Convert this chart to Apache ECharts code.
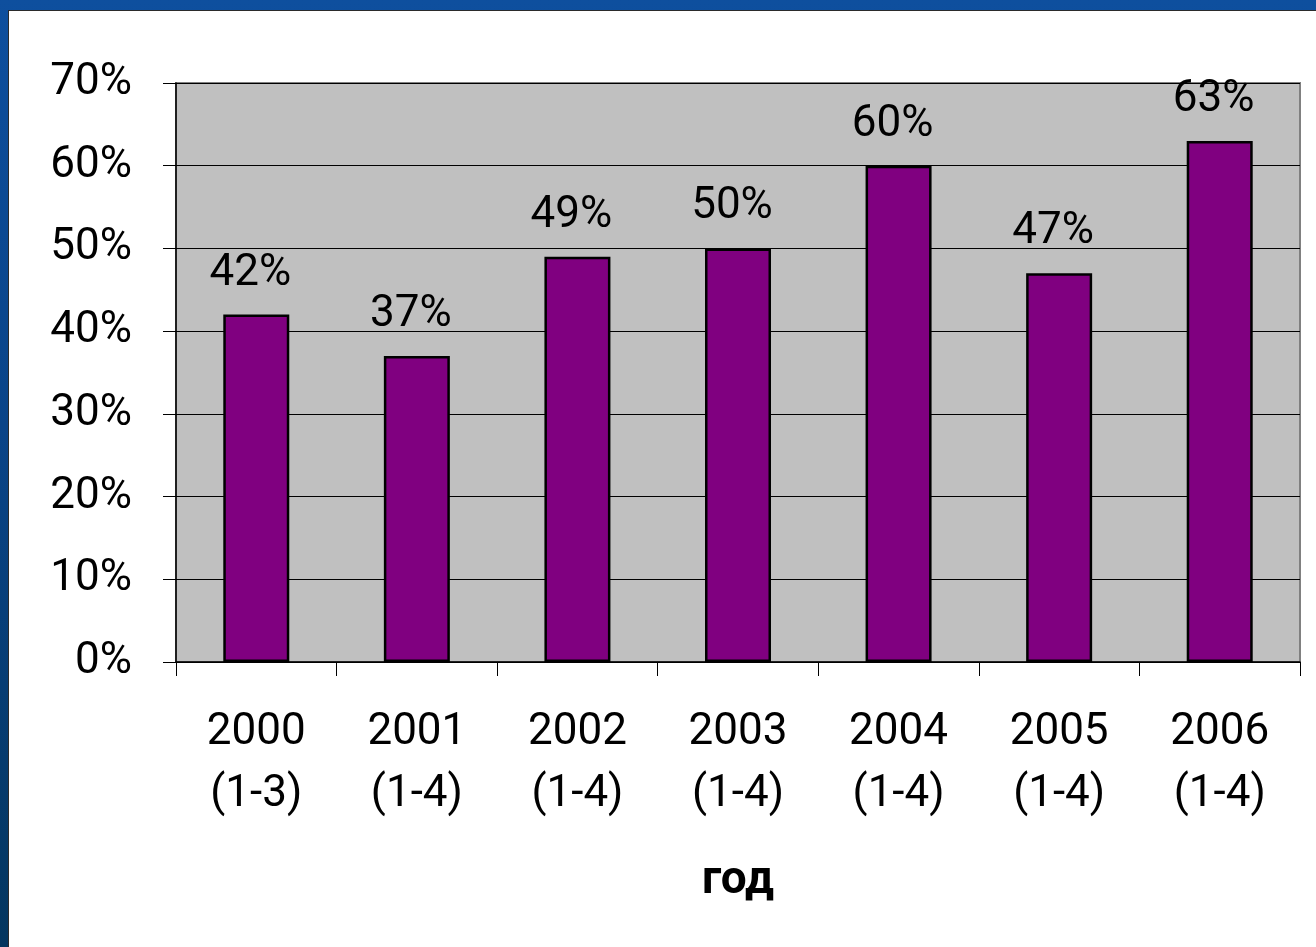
<!DOCTYPE html>
<html>
<head>
<meta charset="utf-8">
<script src="https://cdn.jsdelivr.net/npm/echarts@6/dist/echarts.min.js"></script>
<style>
  html, body { margin: 0; padding: 0; width: 1316px; height: 947px; overflow: hidden; }
  body { background: linear-gradient(180deg, #0e4f9e 0%, #0a4488 45%, #04365f 100%); position: relative; }
  #chart {
    position: absolute; left: 8px; top: 10px; width: 1308px; height: 937px;
    box-sizing: border-box; background: #ffffff;
    border-top: 1px solid #2b2b2b; border-left: 1px solid #2b2b2b;
  }
</style>
</head>
<body>
<div id="chart"></div>
<script>
// Years and the period in brackets shown under each bar
const years = ['2000', '2001', '2002', '2003', '2004', '2005', '2006'];
const periods = ['(1-3)', '(1-4)', '(1-4)', '(1-4)', '(1-4)', '(1-4)', '(1-4)'];
// Share, percent
const shares = [42, 37, 49, 50, 60, 47, 63];
// Value axis
const yMin = 0;
const yMax = 70;
const yStep = 10;
const xName = 'год';

const categories = years.map((y, i) => y + '\n' + periods[i]);
const font = 'Roboto, "Liberation Sans", Arial, sans-serif';

const chart = echarts.init(document.getElementById('chart'), null, { renderer: 'canvas' });
chart.setOption({
  animation: false,
  grid: {
    left: 167, top: 72, width: 1124, height: 579,
    show: true, backgroundColor: '#c0c0c0', borderColor: '#808080', borderWidth: 2
  },
  xAxis: {
    type: 'category',
    data: categories,
    name: xName,
    nameLocation: 'middle',
    nameGap: 196,
    nameTextStyle: { fontFamily: font, fontSize: 46, fontWeight: 'bold', color: '#000' },
    axisLine: { lineStyle: { color: '#000', width: 1.5 } },
    axisTick: { show: true, alignWithLabel: false, length: 14, lineStyle: { color: '#000', width: 1 } },
    axisLabel: { fontFamily: font, fontSize: 44, lineHeight: 62, color: '#000', margin: 40, interval: 0 },
    splitLine: { show: false }
  },
  yAxis: {
    type: 'value',
    min: yMin, max: yMax, interval: yStep,
    axisLine: { show: true, lineStyle: { color: '#000', width: 1.5 } },
    axisTick: { show: true, length: 13, lineStyle: { color: '#000', width: 1 } },
    axisLabel: { fontFamily: font, fontSize: 44, color: '#000', margin: 44, formatter: '{value}%' },
    splitLine: { show: true, lineStyle: { color: '#000', width: 1 } }
  },
  series: [{
    type: 'bar',
    data: shares,
    barWidth: 66,
    itemStyle: { color: '#800080', borderColor: '#000', borderWidth: 2.5 },
    label: {
      show: true, position: 'top', distance: 19, offset: [-6, 0],
      formatter: '{c}%', fontFamily: font, fontSize: 44, color: '#000'
    }
  }]
});
</script>
</body>
</html>
